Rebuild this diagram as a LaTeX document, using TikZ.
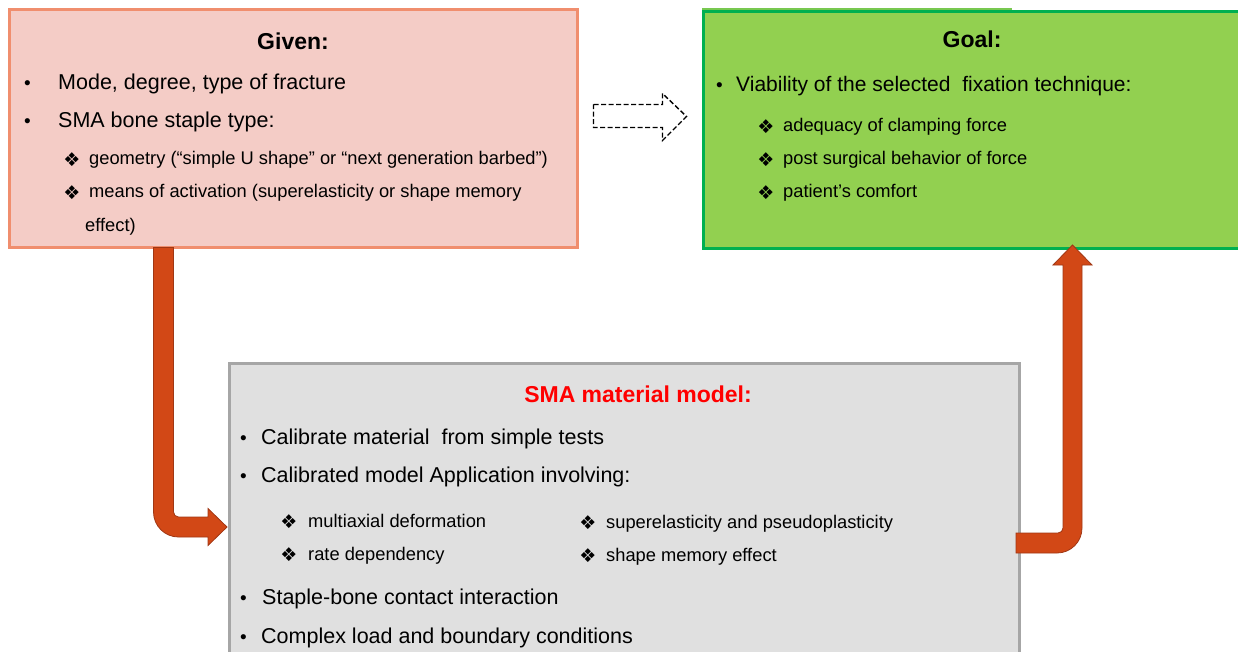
\documentclass[tikz,border=0pt]{standalone}
\usepackage{fontspec}
\setmainfont{Liberation Sans}
\newfontfamily\symfont{DejaVu Sans}
\usetikzlibrary{calc}
\definecolor{givenfill}{RGB}{244,204,198}
\definecolor{givenborder}{RGB}{240,142,110}
\definecolor{goalfill}{RGB}{146,208,80}
\definecolor{goalborder}{RGB}{0,176,80}
\definecolor{goaltop}{RGB}{120,200,80}
\definecolor{smafill}{RGB}{224,224,224}
\definecolor{smaborder}{RGB}{166,166,166}
\definecolor{arrowfill}{RGB}{210,72,22}
\definecolor{arrowborder}{RGB}{160,55,20}
\definecolor{titlered}{RGB}{255,0,0}
\tikzset{
  box/.style={rectangle, line width=3pt, inner sep=0pt, outer sep=0pt, anchor=north west},
  txt/.style={anchor=base west, inner sep=0pt, font=\fontsize{21.5}{26}\selectfont},
  subtxt/.style={anchor=base west, inner sep=0pt, font=\fontsize{18.3}{22}\selectfont},
  dia/.style={anchor=center, inner sep=0pt, font=\symfont\fontsize{19}{19}\selectfont},
  bul/.style={anchor=base west, inner sep=0pt, font=\fontsize{19}{26}\selectfont},
  heading/.style={anchor=base, inner sep=0pt, font=\bfseries\fontsize{23}{28}\selectfont},
  bentarrow/.style={fill=arrowfill, draw=arrowborder, line width=0.8pt, line join=miter},
  openarrow/.style={draw=black, line width=1.4pt, dash pattern=on 5pt off 2.5pt, fill=white}
}
\begin{document}
\begin{tikzpicture}[x=1pt,y=-1pt]
\useasboundingbox (0,0) rectangle (1238,652);
\clip (0,0) rectangle (1238,652);
% boxes
\node[box, fill=givenfill, draw=givenborder, minimum width=568pt, minimum height=238pt] (given) at (9.5,9.5) {};
\fill[goaltop] (702,8) rectangle (1012,10.5);
\node[box, fill=goalfill, draw=goalborder, minimum width=538pt, minimum height=236.5pt] (goal) at (703.5,11.5) {};
\node[box, fill=smafill, draw=smaborder, minimum width=790pt, minimum height=302pt] (sma) at (229,363) {};

% Given texts
\node[heading] (givenT) at (293,50) {Given:};
\node[bul] (gb1) at (24,90) {•};
\node[txt] (gt1) at (58,90) {Mode, degree, type of fracture};
\node[bul] (gb2) at (24,128) {•};
\node[txt] (gt2) at (58,128) {SMA bone staple type:};
\node[dia] (gd1) at (72,159.5) {❖};
\node[subtxt] (gs1) at (89,165) {geometry (“simple U shape” or “next generation barbed”)};
\node[dia] (gd2) at (72,192.5) {❖};
\node[subtxt] (gs2) at (89,198) {means of activation (superelasticity or shape memory};
\node[subtxt] (gs3) at (85,232) {effect)};

% Goal texts
\node[heading] (goalT) at (972,48) {Goal:};
\node[bul] (ob1) at (716,92) {•};
\node[txt, font=\fontsize{21}{26}\selectfont] (ot1) at (736,92) {Viability of the selected\ \ fixation technique:};
\node[dia] (od1) at (766,126.5) {❖};
\node[subtxt] (os1) at (783,132) {adequacy of clamping force};
\node[dia] (od2) at (766,159.5) {❖};
\node[subtxt] (os2) at (783,165) {post surgical behavior of force};
\node[dia] (od3) at (766,192.5) {❖};
\node[subtxt] (os3) at (783,198) {patient’s comfort};

% SMA texts
\node[heading, text=titlered] (smaT) at (638,402) {SMA material model:};
\node[bul] (sb1) at (240,444) {•};
\node[txt] (st1) at (261,444) {Calibrate\ material\ \ from simple tests};
\node[bul] (sb2) at (240,482) {•};
\node[txt] (st2) at (261,482) {Calibrated model Application involving:};
\node[dia] (sd1) at (289,521.5) {❖};
\node[subtxt] (ss1) at (308,527) {multiaxial deformation};
\node[dia] (sd2) at (289,554.5) {❖};
\node[subtxt] (ss2) at (308,560) {rate dependency};
\node[dia] (sd3) at (588,522.5) {❖};
\node[subtxt] (ss3) at (606,528) {superelasticity and pseudoplasticity};
\node[dia] (sd4) at (588,555.5) {❖};
\node[subtxt] (ss4) at (606,561) {shape memory effect};
\node[bul] (sb3) at (240,604) {•};
\node[txt] (st3) at (262,604) {Staple-bone contact interaction};
\node[bul] (sb4) at (240,643) {•};
\node[txt] (st4) at (261,643) {Complex load and boundary conditions};

% dashed open arrow between Given and Goal
\coordinate (D0) at ($(given.north east)+(16,95)$);
\draw[openarrow] (D0) -- ++(69,0) -- ++(0,-11) -- ++(24,23) -- ++(-24,24) -- ++(0,-13) -- ++(-69,0) -- cycle;

% left bent arrow: Given -> SMA
\coordinate (L0) at ($(given.south west)+(144,0)$);
\coordinate (Ltip) at ($(sma.north west)+(-2,164)$);
\draw[bentarrow] (L0) -- ($(L0|-Ltip)+(0,-15)$) arc[start angle=180, end angle=90, radius=25]
  -- ($(Ltip)+(-19,10)$) -- ++(0,8.5) -- (Ltip) -- ($(Ltip)+(-19,-18.5)$) -- ++(0,8.5)
  -- ($(L0|-Ltip)+(25,-10)$) arc[start angle=90, end angle=180, radius=5]
  -- ($(L0)+(20,0)$) -- cycle;

% right bent arrow: SMA -> Goal
\coordinate (R0) at ($(sma.north east)+(-3,170)$);
\coordinate (Rtip) at ($(goal.south west)+(369,-3)$);
\draw[bentarrow] (R0) -- ($(Rtip|-R0)+(-14.5,0)$) arc[start angle=90, end angle=0, radius=5]
  -- ($(Rtip)+(-9.5,20)$) -- ++(-10,0) -- (Rtip) -- ($(Rtip)+(19.5,20)$) -- ++(-10,0)
  -- ($(Rtip|-R0)+(9.5,-5)$) arc[start angle=0, end angle=90, radius=25]
  -- ($(R0)+(0,20)$) -- cycle;
\end{tikzpicture}
\end{document}
